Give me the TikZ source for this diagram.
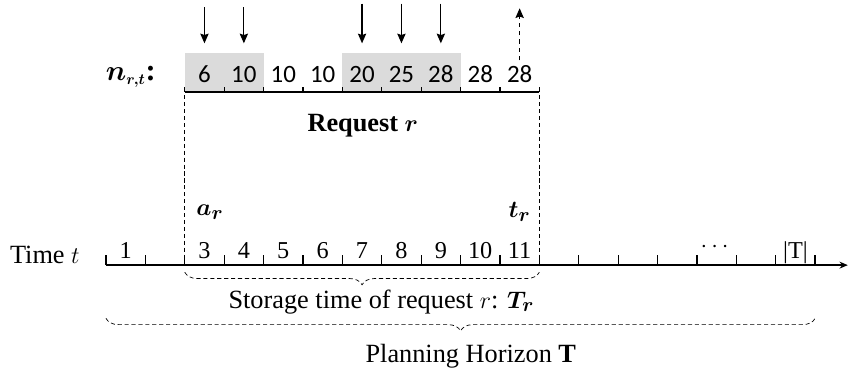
\documentclass[tikz,border=0pt]{standalone}
\usepackage{amsmath}
\usepackage{bm}
\usepackage{fontspec}
\setmainfont{Liberation Serif}
\newfontfamily\cellfont{Carlito}
\usetikzlibrary{calc,math,arrows.meta,decorations.pathreplacing}

\begin{document}
\begin{tikzpicture}
[x=1cm,y=1cm,>={Stealth[length=7pt,width=6pt,inset=1pt]},
 axis/.style={line width=1.3pt},
 tick/.style={line width=0.9pt},
 guide/.style={densely dashed,line width=0.5pt},
 cell/.style={fill=black!14,draw=none},
 lab/.style={font=\fontsize{19}{22}\selectfont,inner sep=0pt},
 num/.style={font=\fontsize{17.5}{20}\selectfont,anchor=base,inner sep=0pt},
 cnum/.style={font=\cellfont\fontsize{18}{20}\selectfont,anchor=base,inner sep=0pt},
 brc/.style={decorate,decoration={brace,mirror,amplitude=0.32cm},densely dashed,line width=0.5pt},]

\useasboundingbox (-2.69,-2.69) rectangle (18.86,6.73);

%Heights of the row n and of the shaded cells
\tikzmath{\h = 4.39; \g = 5.38; }

%Shaded cells
\fill[cell] (2,\h) rectangle (4,\g);
\fill[cell] (6,\h) rectangle (9,\g);

%Time axis and row n
\coordinate (O) at (0,0);
\coordinate (E) at (18.83,0);
\coordinate (A) at (2,\h);
\coordinate (B) at (11,\h);
\draw[axis,-{Stealth[length=6pt,width=5pt]}] (O) -- (E);
\draw[axis] (A) -- (B);
\foreach \k in {0,...,18} \draw[tick] (\k,0) -- (\k,0.25);
\foreach \k in {2,...,11} \draw[tick] (\k,\h) -- (\k,\h+0.12);

%Labeling periods
\node[num] (t1) at (0.5,0.18) {1};
\foreach \t [count=\k from 2] in {3,...,11} \node[num] (t\t) at ({\k+0.5},0.18) {\t};
\node[num] (tdots) at (15.5,0.33) {$\cdots$};
\node[num] (tlast) at (17.5,0.18) {|T|};
\foreach \v [count=\k from 2] in {6,10,10,10,20,25,28,28,28} \node[cnum] (n\k) at ({\k+0.5},\h+0.24) {\v};

%Arrivals and pick-up
\foreach \k in {2,3} {
  \coordinate (s\k) at ({\k+0.5},6.55);
  \coordinate (e\k) at ({\k+0.5},5.63);
  \draw[->,line width=0.9pt] (s\k) -- (e\k);
}
\foreach \k in {6,7,8} {
  \coordinate (s\k) at ({\k+0.5},6.64);
  \coordinate (e\k) at ({\k+0.5},5.63);
  \draw[->,line width=0.9pt] (s\k) -- (e\k);
}
\coordinate (s10) at (10.5,5.2);
\coordinate (e10) at (10.5,6.52);
\draw[->,dashed,line width=0.9pt] (s10) -- (e10);

%Request window
\coordinate (ga) at (2,4.31);
\coordinate (gt) at (11,4.31);
\draw[guide] (ga) -- (2,0);
\draw[guide] (gt) -- (11,0);

\node[lab,font=\fontsize{22}{24}\selectfont] (nlab) at (0.63,4.78) {$\bm{n_{\scriptscriptstyle r,t}}$\textbf{:}};
\node[lab] (req) at (6.52,3.55) {\textbf{Request} $\bm{r}$};
\node[lab] (ar) at (2.64,1.35) {$\bm{a_r}$};
\node[lab] (tr) at (10.5,1.35) {$\bm{t_r}$};
\node[lab,anchor=base east] (time) at (-0.66,0.05) {Time $t$};

%Braces
\draw[brc] (2,-0.18) -- (11,-0.18);
\draw[brc] (0,-1.35) -- (18,-1.35);
\node[lab,anchor=base] (stor) at (6.99,-1.09) {Storage time of request $r$: $\bm{T_r}$};
\node[lab,anchor=base] (plan) at (9.26,-2.46) {Planning Horizon \textbf{T}};

\end{tikzpicture}
\end{document}
